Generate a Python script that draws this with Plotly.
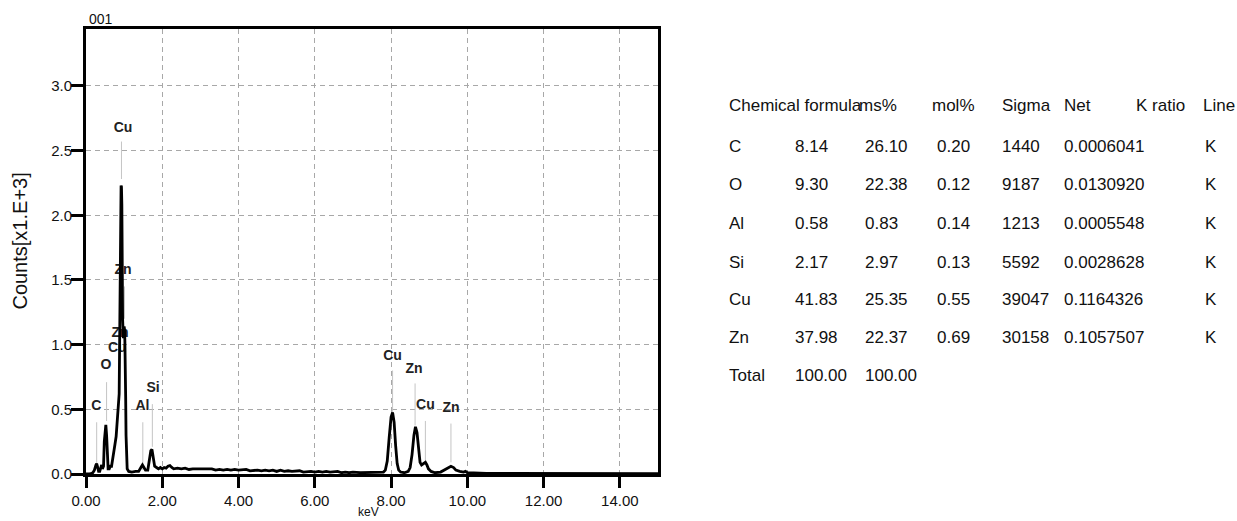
import plotly.graph_objects as go

# ---- EDS spectrum: energy (keV) vs counts (x1000) ----
energy_kev = [
    0.00, 0.10, 0.18, 0.22, 0.26, 0.28, 0.30, 0.33, 0.36, 0.39, 0.41, 0.43, 0.46, 0.48,
    0.50, 0.52, 0.54, 0.56, 0.58, 0.61, 0.64, 0.67, 0.70, 0.73, 0.76, 0.79, 0.82, 0.85,
    0.87, 0.88, 0.89, 0.90, 0.91, 0.92, 0.93, 0.94, 0.95, 0.96, 0.98, 1.00, 1.01, 1.02,
    1.03, 1.04, 1.05, 1.06, 1.08, 1.12, 1.20, 1.30, 1.38, 1.44, 1.48, 1.52, 1.56, 1.62,
    1.66, 1.70, 1.73, 1.76, 1.80, 1.85, 1.90, 1.95, 2.00, 2.05, 2.10, 2.15, 2.20, 2.25,
    2.30, 2.40, 2.50, 2.60, 2.70, 2.80, 2.90, 3.00, 3.10, 3.20, 3.30, 3.40, 3.50, 3.60,
    3.70, 3.80, 3.90, 4.00, 4.10, 4.20, 4.30, 4.40, 4.50, 4.60, 4.70, 4.80, 4.90, 5.00,
    5.10, 5.20, 5.30, 5.40, 5.50, 5.60, 5.70, 5.80, 5.90, 6.00, 6.10, 6.20, 6.30, 6.40,
    6.50, 6.60, 6.70, 6.80, 6.90, 7.00, 7.20, 7.40, 7.60, 7.80, 7.85, 7.90, 7.95, 8.00,
    8.04, 8.08, 8.12, 8.16, 8.20, 8.25, 8.35, 8.45, 8.50, 8.55, 8.60, 8.64, 8.68, 8.72,
    8.76, 8.80, 8.85, 8.90, 8.94, 8.98, 9.05, 9.15, 9.30, 9.40, 9.50, 9.57, 9.64, 9.70,
    9.80, 9.90, 9.95, 10.00, 10.50, 11.00, 12.00, 13.00, 14.00, 15.00,
]
counts_k = [
    0.000, 0.000, 0.010, 0.030, 0.070, 0.080, 0.060, 0.020, 0.020, 0.060, 0.070, 0.040, 0.060, 0.250,
    0.370, 0.380, 0.300, 0.100, 0.040, 0.040, 0.060, 0.060, 0.130, 0.200, 0.230, 0.290, 0.440, 0.550,
    0.620, 0.950, 1.310, 1.330, 1.900, 2.230, 2.220, 2.080, 1.550, 1.200, 1.050, 1.140, 1.120, 1.020,
    0.900, 0.600, 0.300, 0.100, 0.040, 0.020, 0.015, 0.020, 0.020, 0.050, 0.070, 0.050, 0.030, 0.030,
    0.100, 0.180, 0.190, 0.120, 0.060, 0.050, 0.040, 0.050, 0.040, 0.050, 0.045, 0.060, 0.065, 0.050,
    0.040, 0.045, 0.040, 0.045, 0.035, 0.040, 0.040, 0.035, 0.040, 0.035, 0.040, 0.030, 0.035, 0.030,
    0.035, 0.030, 0.035, 0.030, 0.030, 0.035, 0.025, 0.030, 0.030, 0.025, 0.030, 0.025, 0.030, 0.020,
    0.030, 0.020, 0.025, 0.020, 0.020, 0.025, 0.015, 0.020, 0.020, 0.015, 0.020, 0.015, 0.020, 0.015,
    0.015, 0.020, 0.010, 0.015, 0.010, 0.015, 0.010, 0.010, 0.010, 0.015, 0.030, 0.100, 0.280, 0.440,
    0.475, 0.400, 0.220, 0.080, 0.030, 0.015, 0.010, 0.020, 0.050, 0.150, 0.300, 0.365, 0.320, 0.180,
    0.090, 0.070, 0.080, 0.090, 0.070, 0.040, 0.020, 0.010, 0.015, 0.030, 0.050, 0.060, 0.050, 0.030,
    0.020, 0.015, 0.020, 0.010, 0.005, 0.005, 0.004, 0.004, 0.003, 0.003,
]

# ---- peak identification labels ----
peak_labels = ["C", "O", "Cu", "Zn", "Zn", "Cu", "Al", "Si", "Cu", "Zn", "Cu", "Zn"]
label_kev = [0.27, 0.52, 0.97, 0.97, 0.89, 0.82, 1.48, 1.76, 8.04, 8.60, 8.90, 9.57]
label_counts = [0.52, 0.84, 2.67, 1.57, 1.09, 0.97, 0.52, 0.66, 0.905, 0.81, 0.53, 0.505]

# gray marker lines: energy, top, bottom (counts x1000)
marker_kev = [0.28, 0.54, 0.93, 1.01, 1.49, 1.74, 8.04, 8.63, 8.90, 9.57]
marker_top = [0.40, 0.71, 2.57, 1.45, 0.40, 0.54, 0.80, 0.70, 0.41, 0.39]
marker_bottom = [0.045, 0.41, 2.28, 1.20, 0.03, 0.21, 0.475, 0.375, 0.10, 0.09]

# ---- quantification table ----
headers = ["Chemical formula", "ms%", "mol%", "Sigma", "Net", "K ratio", "Line"]
elements = ["C", "O", "Al", "Si", "Cu", "Zn"]
ms_pct = [8.14, 9.30, 0.58, 2.17, 41.83, 37.98]
mol_pct = [26.10, 22.38, 0.83, 2.97, 25.35, 22.37]
sigma = [0.20, 0.12, 0.14, 0.13, 0.55, 0.69]
net = [1440, 9187, 1213, 5592, 39047, 30158]
k_ratio = [0.0006041, 0.0130920, 0.0005548, 0.0028628, 0.1164326, 0.1057507]
line_type = ["K", "K", "K", "K", "K", "K"]
total_ms = 100.00
total_mol = 100.00

x_ticks = [0, 2, 4, 6, 8, 10, 12, 14]
y_ticks = [0.0, 0.5, 1.0, 1.5, 2.0, 2.5, 3.0]

FONT = "Liberation Sans, Arial, sans-serif"
TXT = "#111111"

# plot area in pixels
PL, PR, PT, PB = 86, 658, 29, 477


def px_x(px):
    return (px - PL) / (PR - PL)


def px_y(py):
    return (PB - py) / (PB - PT)


fig = go.Figure()

# marker lines (behind the spectrum)
mx, my = [], []
for e, t, b in zip(marker_kev, marker_top, marker_bottom):
    mx += [e, e, None]
    my += [t, b, None]
fig.add_trace(go.Scatter(x=mx, y=my, mode="lines",
                         line=dict(color="#c4c4c4", width=1), hoverinfo="skip"))

# element labels (behind the spectrum)
fig.add_trace(go.Scatter(
    x=label_kev, y=label_counts, mode="text",
    text=["<b>%s</b>" % s for s in peak_labels],
    textposition="middle center",
    textfont=dict(family=FONT, size=14, color="#222222"),
    hoverinfo="skip"))

# spectrum
fig.add_trace(go.Scatter(x=energy_kev, y=counts_k, mode="lines",
                         line=dict(color="black", width=2.8)))

axis_common = dict(
    showline=True, linewidth=3, linecolor="black", mirror=True,
    ticks="outside", tickwidth=3, tickcolor="black",
    showgrid=True, gridcolor="#a8a8a8", gridwidth=1, griddash="5px,4px",
    zeroline=False, tickfont=dict(family=FONT, size=15, color=TXT),
)

fig.update_xaxes(range=[0, 15], tickvals=x_ticks, tickformat=".2f", ticklen=11,
                 **axis_common)
fig.update_yaxes(range=[0, 3.44], tickvals=y_ticks, tickformat=".1f", ticklen=12,
                 ticklabelstandoff=-4, **axis_common)

ann = []
# chart caption and axis titles
ann.append(dict(text="001", x=px_x(87), y=px_y(19), xref="paper", yref="paper",
                xanchor="left", yanchor="middle", showarrow=False,
                font=dict(family=FONT, size=14, color=TXT)))
ann.append(dict(text="Counts[x1.E+3]", x=px_x(20), y=px_y(243), xref="paper", yref="paper",
                textangle=-90, xanchor="center", yanchor="middle", showarrow=False,
                font=dict(family=FONT, size=20, color=TXT)))
ann.append(dict(text="keV", x=px_x(368), y=px_y(515), xref="paper", yref="paper",
                xanchor="center", yanchor="middle", showarrow=False,
                font=dict(family=FONT, size=12, color=TXT)))

# table text
TFONT = dict(family=FONT, size=17, color=TXT)
header_x = [727, 899, 930, 1000, 1062, 1134, 1201]
header_anchor = ["left", "right", "left", "left", "left", "left", "left"]
col_x = [727, 793, 863, 935, 1000, 1062, 1203]
header_y = 106
row_y = [147, 186, 225, 264, 301, 340, 378]


def cell(text, px, py, anchor="left"):
    ann.append(dict(text=text, x=px_x(px), y=px_y(py), xref="paper", yref="paper",
                    xanchor=anchor, yanchor="middle", showarrow=False, font=TFONT))


for h, hx, ha in zip(headers, header_x, header_anchor):
    cell(h, hx, header_y, ha)

for i, el in enumerate(elements):
    vals = [el, "%.2f" % ms_pct[i], "%.2f" % mol_pct[i], "%.2f" % sigma[i],
            "%d" % net[i], "%.7f" % k_ratio[i], line_type[i]]
    for v, cx in zip(vals, col_x):
        cell(v, cx, row_y[i])

cell("Total", col_x[0], row_y[6])
cell("%.2f" % total_ms, col_x[1], row_y[6])
cell("%.2f" % total_mol, col_x[2], row_y[6])

fig.update_layout(
    width=1237, height=521,
    margin=dict(l=PL, r=1237 - PR, t=PT, b=521 - PB),
    paper_bgcolor="white", plot_bgcolor="white",
    showlegend=False, annotations=ann,
    font=dict(family=FONT, color=TXT),
)

fig.write_html("out.html")
